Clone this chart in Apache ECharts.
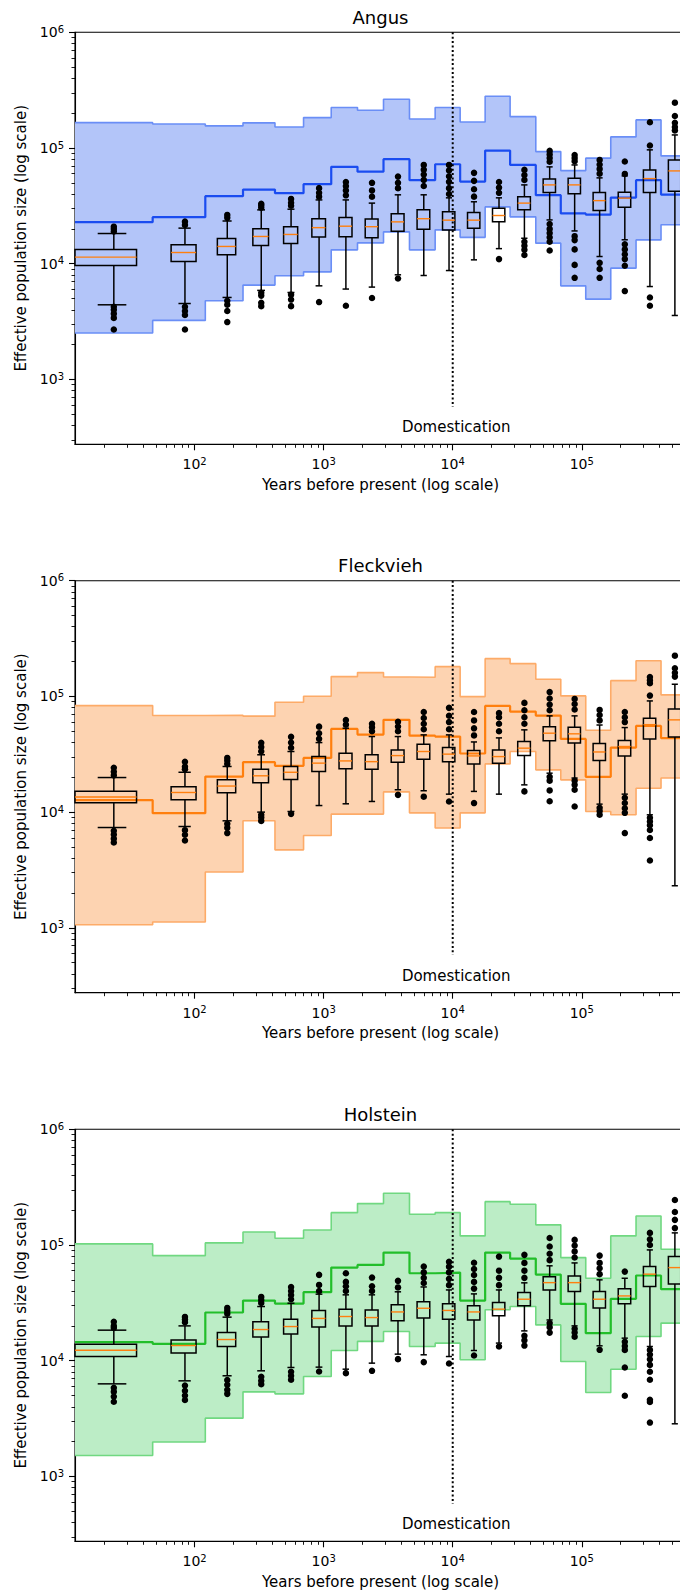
<!DOCTYPE html>
<html>
<head>
<meta charset="utf-8">
<script src="https://cdn.jsdelivr.net/npm/echarts@6/dist/echarts.min.js"></script>
<style>html,body{margin:0;padding:0;background:#fff}#chart{width:680px;height:1594px}</style>
</head>
<body>
<div id="chart"></div>
<script>
// ---------------- DATA ----------------
const panelTitles = ['Angus', 'Fleckvieh', 'Holstein'];
const xAxisTitle = 'Years before present (log scale)';
const yAxisTitle = 'Effective population size (log scale)';
// time interval boundaries (years before present)
const timeBreaks = [0, 47.3, 121, 237.1, 419.4, 698.5, 1144.5, 1829, 2909, 4624, 7311, 11420, 17840, 27850, 44040, 68780, 107400, 167800, 263500, 411400, 642500];
const xTickValues = [100, 1000, 10000, 100000];
const yTickValues = [1000, 10000, 100000, 1000000];
const domesticationX = 10000;
const domesticationLineY = [1000000, 581];
const domesticationLabelPos = [10640, 385];
const domesticationText = 'Domestication';

// Angus
const angusUpper = [165600, 161400, 155200, 164900, 152100, 183200, 223600, 211900, 263700, 178200, 223600, 167900, 280000, 186700, 93100, 63800, 81700, 124700, 174900, 85500];
const angusMedian = [22860, 25240, 38350, 43760, 40740, 48680, 68700, 62500, 80000, 52700, 72400, 51300, 95100, 71400, 39100, 27200, 26600, 37300, 52700, 39600];
const angusLower = [2518, 3236, 4786, 6537, 7870, 8510, 13180, 15150, 18850, 13180, 19620, 16900, 30970, 25400, 15060, 6440, 4940, 9160, 16060, 21700];
// [whisker low, q1, median, q3, whisker high]
const angusBoxes = [
  [4415, 9640, 11410, 13270, 18240], [4530, 10450, 12500, 14550, 20300], [5110, 11950, 14100, 16500, 23400],
  [5880, 14350, 17200, 20100, 29200], [5640, 14930, 17900, 20900, 29600], [6440, 17000, 20500, 24500, 35600],
  [6040, 17100, 21100, 25100, 35600], [6280, 16800, 20900, 24400, 33400], [8020, 19100, 23000, 27000, 39400],
  [7910, 19900, 24500, 29200, 39400], [8730, 19600, 23800, 28100, 37100], [10800, 20300, 23800, 27700, 34300],
  [13500, 23000, 26100, 30200, 37100], [16600, 29200, 33400, 38000, 48000], [23900, 41200, 48000, 54000, 68700],
  [19200, 40200, 48000, 54800, 71400], [11540, 28800, 35100, 41200, 55200], [16100, 30800, 36900, 41500, 57400],
  [6350, 41200, 54400, 64700, 96400], [3570, 42400, 63400, 78900, 129700]
];
const angusOutliers = [
  [19000, 20000, 20900, 4250, 4000, 3700, 3400, 2700], [21600, 23100, 4250, 3900, 3600, 2700],
  [24900, 26400, 4790, 4420, 3900, 3130], [30500, 32000, 33000, 5600, 5300, 4600, 4300],
  [31700, 33600, 36300, 5400, 4900, 4300], [38000, 41000, 45000, 4660],
  [39000, 43000, 47000, 50900, 4330], [38000, 43000, 50000, 5050],
  [45000, 50000, 56600, 7450], [47000, 53000, 59000, 65000, 71400],
  [40000, 45000, 51000, 57000, 64000, 71400], [38000, 44000, 52000, 61000],
  [41000, 45500, 50900, 10960], [53000, 58500, 64700, 15500, 14300, 13200, 11900],
  [76000, 82000, 88000, 94400, 22000, 20000, 18400, 16900, 15500, 13000], [77000, 82000, 87000, 17300, 16000, 13300, 9770, 7550],
  [60000, 66000, 72000, 78900, 10180, 9000, 7550], [59700, 76400, 14700, 13300, 12050, 10960, 9600, 5800],
  [105000, 167000, 5100, 4330], [142000, 152000, 165000, 189000, 246500]
];

// Fleckvieh
const fleckUpper = [83300, 68300, 68800, 67500, 89100, 100400, 148300, 160600, 147300, 146400, 180800, 99600, 211900, 191900, 140900, 101000, 51000, 136800, 203600, 103000];
const fleckMedian = [12700, 9800, 20300, 27000, 25100, 29400, 52400, 46800, 62700, 45800, 45000, 32100, 82800, 74000, 68300, 42900, 20200, 36100, 55600, 43600];
const fleckLower = [1064, 1122, 3035, 8410, 4720, 6280, 9610, 9610, 14960, 9860, 7280, 9860, 26100, 33400, 23200, 19000, 10120, 9480, 16100, 19700];
const fleckBoxes = [
  [7360, 12030, 13490, 15130, 19900], [7510, 12770, 14780, 16600, 22100], [8410, 14700, 16800, 19000, 24800],
  [10000, 17900, 20600, 23500, 31300], [10120, 19100, 22100, 24800, 33400], [11400, 22400, 26500, 30200, 39900],
  [11800, 23700, 27700, 32300, 53100], [12360, 23500, 27300, 31300, 45000], [15600, 27000, 30800, 34500, 45000],
  [15300, 28700, 33400, 38600, 46500], [14300, 27200, 31700, 36100, 46500], [15100, 26100, 30600, 34000, 40400],
  [14300, 26500, 30200, 34500, 43800], [17200, 30800, 35700, 40700, 51400], [21700, 41300, 48100, 54800, 67900],
  [19700, 39500, 47500, 54200, 67900], [11720, 27900, 33100, 39100, 56600], [14300, 30600, 36900, 41500, 53800],
  [9480, 42900, 57000, 64900, 91400], [2310, 44500, 62700, 78000, 127400]
];
const fleckOutliers = [
  [20800, 22300, 24200, 6900, 6400, 5900, 5460], [23500, 24700, 27200, 6980, 6380, 5690],
  [26000, 27800, 29400, 7920, 7310, 6590], [33500, 36500, 39700, 9500, 9000, 8400],
  [36000, 40000, 44700, 9660], [43000, 48000, 54800],
  [57000, 62600], [50000, 54000, 57900],
  [50000, 55000, 60300, 14100], [52000, 58000, 65000, 73400, 13600],
  [52000, 60000, 68000, 79600, 12360], [46000, 53000, 62000, 73400, 11970],
  [50000, 58000, 66000, 71900], [58000, 66000, 76000, 87900, 15100],
  [76000, 85000, 96000, 109000, 20200, 18700, 15400, 12400], [77000, 86000, 95100, 18700, 17200, 15600, 11170],
  [62000, 69000, 76400, 10900, 10200, 9480], [60000, 66000, 73400, 13300, 12000, 10800, 9860, 6590],
  [101600, 130000, 138000, 147000, 8930, 8300, 7700, 7000, 5970, 3820], [148300, 160000, 175300, 224900]
];

// Holstein
const holsteinUpper = [102200, 80900, 104300, 129600, 114500, 134800, 190400, 227900, 280000, 184500, 190400, 119900, 237000, 225000, 149300, 77800, 51600, 119900, 178300, 92000];
const holsteinMedian = [14480, 14000, 26100, 33100, 31200, 39100, 63800, 67300, 86000, 57000, 57800, 33100, 86000, 76400, 55500, 31000, 17300, 34300, 54500, 41500];
const holsteinLower = [1518, 1981, 3190, 5380, 5170, 7310, 12250, 14700, 17860, 13270, 14190, 10190, 27540, 29400, 20400, 9840, 5310, 8450, 16180, 21130];
const holsteinBoxes = [
  [6310, 10870, 12310, 13860, 18370], [6700, 11640, 13530, 15140, 20000], [7410, 13270, 15250, 17540, 23800],
  [8180, 16000, 18600, 21700, 29400], [8740, 16980, 19740, 22870, 31400], [8800, 19600, 23200, 27200, 37600],
  [8450, 20000, 24100, 27900, 37100], [9530, 20000, 23600, 27500, 37100], [11400, 22200, 26400, 30400, 39400],
  [11250, 23400, 28400, 32400, 43400], [10870, 22870, 27200, 31000, 40900], [12250, 22500, 26400, 29800, 37800],
  [14200, 24500, 27900, 31800, 40900], [18100, 29800, 34000, 38800, 47100], [22500, 40900, 47300, 53300, 66100],
  [20000, 39600, 47300, 54000, 70000], [13450, 28500, 34000, 39600, 50000], [15670, 31000, 36300, 41800, 51600],
  [13270, 43800, 56000, 65200, 90700], [2850, 46100, 63800, 79400, 127300]
];
const holsteinOutliers = [
  [19200, 20000, 21700, 5830, 5400, 4900, 4420], [21500, 22700, 23900, 6100, 5500, 5000, 4580],
  [25500, 27000, 28600, 6800, 6200, 5600, 5170], [31500, 33500, 35600, 7270, 6700, 6260],
  [34000, 37000, 40000, 43400, 8020, 7400, 6840], [40000, 45200, 55200, 8070],
  [40000, 44000, 48000, 57000, 7810], [40000, 44000, 52300, 8180],
  [43000, 49000, 10320], [47000, 52000, 58000, 65200, 9730],
  [45000, 51000, 58000, 65000, 71500, 9460], [42000, 48000, 55000, 62000, 70200, 11090],
  [45000, 52000, 60000, 79400, 13270], [52000, 60000, 70000, 82200, 16400, 15000, 13520],
  [74000, 84000, 97000, 115000, 21200, 19500, 17500], [78000, 88000, 99000, 110700, 18900, 17500, 16100],
  [56000, 63000, 70000, 81000, 12420], [58900, 14550, 13400, 12400, 8740, 4980],
  [100000, 112000, 127300, 12400, 11300, 10300, 9200, 8020, 6840, 4590, 4400, 2920], [140000, 165000, 193000, 244800]
];

// ---------------- LAYOUT / STYLE ----------------
const X_MIN = 11.83, X_MAX = 642500, Y_MIN = 275, Y_MAX = 1000000;
const GRID_LEFT = 75, GRID_WIDTH = 611, GRID_HEIGHT = 412;
const gridTops = [32.3, 580.7, 1129.3];
const FONT = 'DejaVu Sans';
const panelStyles = [
  { fill: '#b3c5f9', edge: '#6a8ef6', line: '#1a4cf0' },
  { fill: '#fdd3b1', edge: '#fdab68', line: '#ff7f0e' },
  { fill: '#bcedc6', edge: '#70d881', line: '#22be2a' }
];
const panels = [
  { upper: angusUpper, median: angusMedian, lower: angusLower, boxes: angusBoxes, outliers: angusOutliers },
  { upper: fleckUpper, median: fleckMedian, lower: fleckLower, boxes: fleckBoxes, outliers: fleckOutliers },
  { upper: holsteinUpper, median: holsteinMedian, lower: holsteinLower, boxes: holsteinBoxes, outliers: holsteinOutliers }
];

function minorValues(lo, hi) {
  const out = [];
  for (let e = 0; e <= 6; e++) {
    for (let m = 2; m <= 9; m++) {
      const v = m * Math.pow(10, e);
      if (v > lo && v < hi) out.push(v);
    }
  }
  return out;
}
const xMinor = minorValues(X_MIN, X_MAX);
const yMinor = minorValues(Y_MIN, Y_MAX);

const richLabel = {
  b: { fontSize: 14, lineHeight: 16, fontFamily: FONT, color: '#000' },
  s: { fontSize: 10, lineHeight: 11, verticalAlign: 'top', fontFamily: FONT, color: '#000' }
};
function powLabel(v) {
  const e = Math.round(Math.log10(v));
  return '{b|10}{s|' + e + '}';
}

function intervalStart(i) { return i === 0 ? X_MIN : timeBreaks[i]; }
function stepPoints(arr) {
  const pts = [];
  arr.forEach(function (v, i) {
    pts.push([intervalStart(i), v]);
    pts.push([timeBreaks[i + 1], v]);
  });
  return pts;
}

const grid = [], xAxis = [], yAxis = [], series = [];

panels.forEach(function (p, k) {
  const st = panelStyles[k];
  grid.push({
    left: GRID_LEFT, top: gridTops[k], width: GRID_WIDTH, height: GRID_HEIGHT,
    show: true, borderColor: '#000', borderWidth: 1.1, backgroundColor: 'transparent',
    containLabel: false, outerBoundsMode: 'none'
  });
  const xi = xAxis.length, yi = yAxis.length;
  // major x
  xAxis.push({
    type: 'log', gridIndex: k, min: X_MIN, max: X_MAX, position: 'bottom',
    name: xAxisTitle, nameLocation: 'middle', nameGap: 33,
    nameTextStyle: { fontSize: 15, fontFamily: FONT, color: '#000' },
    axisLine: { show: true, onZero: false, lineStyle: { color: '#000', width: 1.1 } },
    axisTick: { show: true, length: 6, customValues: xTickValues, lineStyle: { color: '#000', width: 1.1 } },
    axisLabel: { show: true, customValues: xTickValues, margin: 12, formatter: powLabel, rich: richLabel },
    splitLine: { show: false }, minorTick: { show: false }
  });
  // minor x
  xAxis.push({
    type: 'log', gridIndex: k, min: X_MIN, max: X_MAX, position: 'bottom',
    axisLine: { show: false, onZero: false },
    axisTick: { show: true, length: 3.5, customValues: xMinor, lineStyle: { color: '#000', width: 0.9 } },
    axisLabel: { show: false }, splitLine: { show: false }
  });
  // top axis carrying the panel title
  xAxis.push({
    type: 'log', gridIndex: k, min: X_MIN, max: X_MAX, position: 'top',
    name: panelTitles[k], nameLocation: 'middle', nameGap: 6,
    nameTextStyle: { fontSize: 18, fontFamily: FONT, color: '#000' },
    axisLine: { show: false, onZero: false }, axisTick: { show: false }, axisLabel: { show: false }, splitLine: { show: false }
  });
  yAxis.push({
    type: 'log', gridIndex: k, min: Y_MIN, max: Y_MAX, position: 'left',
    name: yAxisTitle, nameLocation: 'middle', nameGap: 44,
    nameTextStyle: { fontSize: 15, fontFamily: FONT, color: '#000' },
    axisLine: { show: true, onZero: false, lineStyle: { color: '#000', width: 1.1 } },
    axisTick: { show: true, length: 6, customValues: yTickValues, lineStyle: { color: '#000', width: 1.1 } },
    axisLabel: { show: true, customValues: yTickValues, margin: 11, formatter: powLabel, rich: richLabel },
    splitLine: { show: false }, minorTick: { show: false }
  });
  yAxis.push({
    type: 'log', gridIndex: k, min: Y_MIN, max: Y_MAX, position: 'left',
    axisLine: { show: false, onZero: false },
    axisTick: { show: true, length: 3.5, customValues: yMinor, lineStyle: { color: '#000', width: 0.9 } },
    axisLabel: { show: false }, splitLine: { show: false }
  });

  // band fill
  series.push({
    type: 'custom', xAxisIndex: xi, yAxisIndex: yi, z: 1, silent: true,
    data: [[X_MIN, p.lower[0]]],
    renderItem: function (params, api) {
      const pts = [];
      for (let i = 0; i < p.upper.length; i++) {
        pts.push(api.coord([intervalStart(i), p.upper[i]]));
        pts.push(api.coord([timeBreaks[i + 1], p.upper[i]]));
      }
      for (let i = p.lower.length - 1; i >= 0; i--) {
        pts.push(api.coord([timeBreaks[i + 1], p.lower[i]]));
        pts.push(api.coord([intervalStart(i), p.lower[i]]));
      }
      return { type: 'polygon', shape: { points: pts }, style: { fill: st.fill, stroke: null } };
    }
  });
  // band edges
  [p.upper, p.lower].forEach(function (arr) {
    series.push({
      type: 'line', xAxisIndex: xi, yAxisIndex: yi, z: 2, silent: true,
      data: stepPoints(arr), symbol: 'none', animation: false,
      lineStyle: { color: st.edge, width: 1.6 }
    });
  });
  // median step line
  series.push({
    type: 'line', xAxisIndex: xi, yAxisIndex: yi, z: 3, silent: true,
    data: stepPoints(p.median), symbol: 'none',
    lineStyle: { color: st.line, width: 2.2 }
  });
  // domestication line
  series.push({
    type: 'line', xAxisIndex: xi, yAxisIndex: yi, z: 4, silent: true,
    data: [[domesticationX, domesticationLineY[0]], [domesticationX, domesticationLineY[1]]],
    symbol: 'none', lineStyle: { color: '#000', width: 2, type: [2, 2.4] }
  });
  // domestication text
  series.push({
    type: 'scatter', xAxisIndex: xi, yAxisIndex: yi, z: 4, silent: true,
    data: [domesticationLabelPos], symbolSize: 0, itemStyle: { opacity: 1 },
    label: { show: true, position: 'inside', formatter: domesticationText, fontSize: 15, fontFamily: FONT, color: '#000', opacity: 1 }
  });
  // boxes
  const boxData = p.boxes.map(function (b, i) {
    const pos = (timeBreaks[i] + timeBreaks[i + 1]) / 2;
    const w = (timeBreaks[i + 1] - timeBreaks[i]) / 2;
    return [pos, w].concat(b);
  });
  series.push({
    type: 'custom', xAxisIndex: xi, yAxisIndex: yi, z: 5, silent: true,
    data: boxData,
    encode: { x: 0, y: [2, 3, 4, 5, 6] },
    renderItem: function (params, api) {
      const pos = api.value(0), w = api.value(1);
      const wlo = api.value(2), q1 = api.value(3), med = api.value(4), q3 = api.value(5), whi = api.value(6);
      const xl = api.coord([pos - w / 2, q1])[0], xr = api.coord([pos + w / 2, q1])[0];
      const cl = api.coord([pos - w / 4, q1])[0], cr = api.coord([pos + w / 4, q1])[0];
      const xc = api.coord([pos, q1])[0];
      const y = function (v) { return api.coord([pos, v])[1]; };
      const ls = { stroke: '#000', lineWidth: 1.5, fill: null };
      return {
        type: 'group', children: [
          { type: 'line', shape: { x1: xc, y1: y(wlo), x2: xc, y2: y(q1) }, style: ls },
          { type: 'line', shape: { x1: xc, y1: y(q3), x2: xc, y2: y(whi) }, style: ls },
          { type: 'line', shape: { x1: cl, y1: y(wlo), x2: cr, y2: y(wlo) }, style: ls },
          { type: 'line', shape: { x1: cl, y1: y(whi), x2: cr, y2: y(whi) }, style: ls },
          { type: 'rect', shape: { x: xl, y: y(q3), width: xr - xl, height: y(q1) - y(q3) }, style: ls },
          { type: 'line', shape: { x1: xl, y1: y(med), x2: xr, y2: y(med) }, style: { stroke: '#ff7f0e', lineWidth: 1.4 } }
        ]
      };
    }
  });
  // outliers
  const outData = [];
  p.outliers.forEach(function (list, i) {
    const pos = (timeBreaks[i] + timeBreaks[i + 1]) / 2;
    list.forEach(function (v) { outData.push([pos, v]); });
  });
  series.push({
    type: 'scatter', xAxisIndex: xi, yAxisIndex: yi, z: 6, silent: true,
    data: outData, symbol: 'circle', symbolSize: 6.5, itemStyle: { color: '#000', opacity: 1 }
  });
});

const chart = echarts.init(document.getElementById('chart'), null, { renderer: 'svg' });
chart.setOption({
  animation: false,
  backgroundColor: '#fff',
  textStyle: { fontFamily: FONT },
  grid: grid, xAxis: xAxis, yAxis: yAxis, series: series
});
</script>
</body>
</html>
